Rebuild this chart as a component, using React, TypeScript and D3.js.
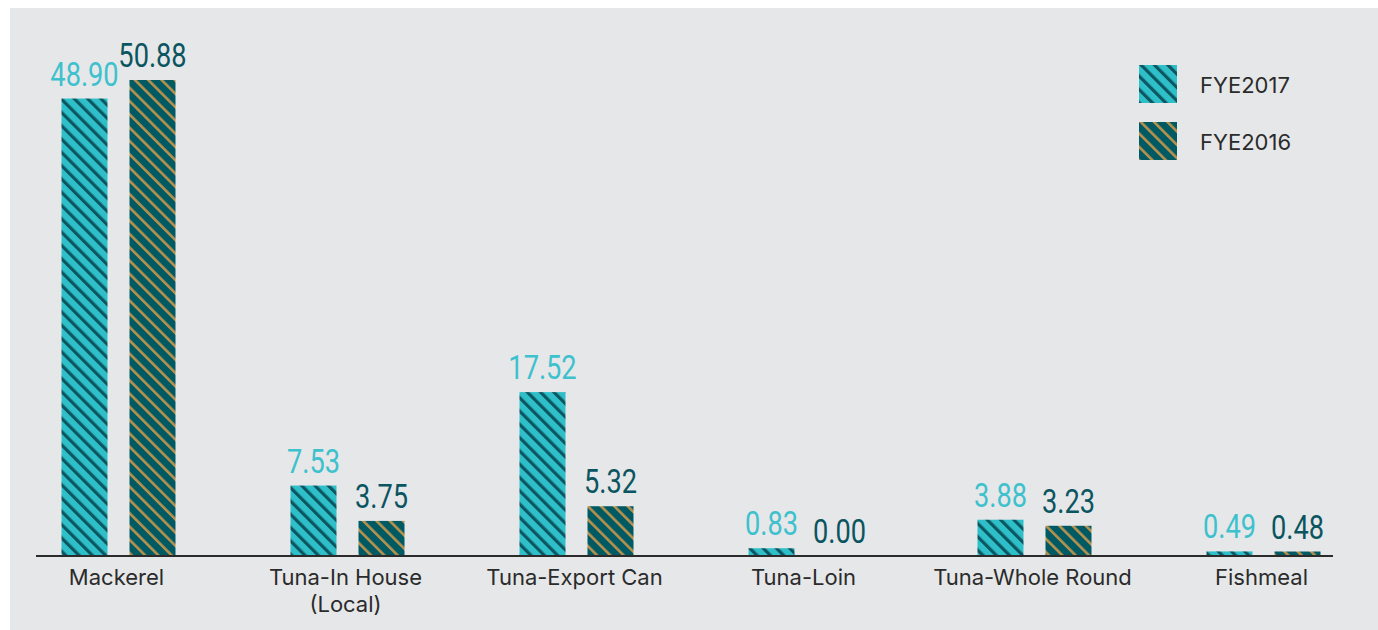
import React from "react";
import * as d3 from "d3";

const categories = [
  ["Mackerel"],
  ["Tuna-In House", "(Local)"],
  ["Tuna-Export Can"],
  ["Tuna-Loin"],
  ["Tuna-Whole Round"],
  ["Fishmeal"],
];
const seriesNames = ["FYE2017", "FYE2016"];
const fye2017 = [48.9, 7.53, 17.52, 0.83, 3.88, 0.49];
const fye2016 = [50.88, 3.75, 5.32, 0.0, 3.23, 0.48];

const W = 1378;
const H = 630;
const baseY = 556;

const fills = [
  { bg: "#2EBFC9", stripe: "#0C5662", sw: 3.2, label: "#3CC1CD" },
  { bg: "#005A63", stripe: "#B8914C", sw: 2.6, label: "#0A5560" },
];

const App = () => {
  const x = d3
    .scaleBand<number>()
    .domain(d3.range(categories.length))
    .range([4, 1378]);

  const y = d3.scaleLinear().domain([0, 50.88]).range([baseY, 80]);

  const barW = 46;
  const offsets = [-34, 34];
  const values = [fye2017, fye2016];

  return (
    <svg
      width={W}
      height={H}
      style={{ position: "absolute", left: 0, top: 0, display: "block" }}
    >
      <defs>
        {fills.map((f, i) => (
          <pattern
            key={i}
            id={`stripe${i}`}
            patternUnits="userSpaceOnUse"
            width={9.4}
            height={9.4}
            patternTransform="rotate(-45)"
          >
            <rect width={9.4} height={9.4} fill={f.bg} />
            <rect x={0} width={f.sw} height={9.4} fill={f.stripe} />
          </pattern>
        ))}
      </defs>
      <rect x={10} y={8} width={W - 10} height={H - 8} fill="#E6E7E9" />

      {values.map((vals, s) =>
        vals.map((v, i) => {
          const cx = x(i)! + x.bandwidth() / 2 + offsets[s];
          const top = y(v);
          return (
            <g key={`${s}-${i}`}>
              <rect
                x={cx - barW / 2}
                y={top}
                width={barW}
                height={baseY - top}
                fill={`url(#stripe${s})`}
              />
              <text
                transform={`translate(${cx}, ${top - 13}) scale(0.8, 1)`}
                textAnchor="middle"
                fontFamily="Roboto, sans-serif"
                fontSize={34}
                fill={fills[s].label}
              >
                {v.toFixed(2)}
              </text>
            </g>
          );
        })
      )}

      <line x1={36} x2={1333} y1={baseY} y2={baseY} stroke="#2b2b2b" strokeWidth={2} />

      {categories.map((lines, i) => (
        <text
          key={i}
          x={x(i)! + x.bandwidth() / 2 - 2}
          y={585}
          textAnchor="middle"
          fontFamily="Inter, sans-serif"
          fontSize={22}
          fill="#2b2b2b"
        >
          {lines.map((t, j) => (
            <tspan key={j} x={x(i)! + x.bandwidth() / 2 - 2} dy={j === 0 ? 0 : 27}>
              {t}
            </tspan>
          ))}
        </text>
      ))}

      {seriesNames.map((name, s) => (
        <g key={name} transform={`translate(1139, ${65 + s * 57})`}>
          <rect width={38} height={38} fill={`url(#stripe${s})`} />
          <text
            x={61}
            y={28}
            fontFamily="Inter, sans-serif"
            fontSize={22}
            fill="#2b2b2b"
          >
            {name}
          </text>
        </g>
      ))}
    </svg>
  );
};

export default App;
